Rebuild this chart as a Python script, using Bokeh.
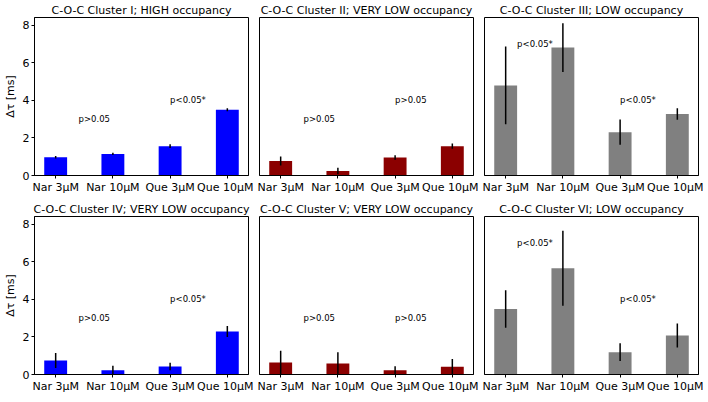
from bokeh.plotting import figure
from bokeh.layouts import gridplot
from bokeh.models import Range1d, FixedTicker
from bokeh.embed import file_html
from bokeh.resources import INLINE

categories = ["Nar 3μM", "Nar 10μM", "Que 3μM", "Que 10μM"]

titles = [
    "C-O-C Cluster I; HIGH occupancy",
    "C-O-C Cluster II; VERY LOW occupancy",
    "C-O-C Cluster III; LOW occupancy",
    "C-O-C Cluster IV; VERY LOW occupancy",
    "C-O-C Cluster V; VERY LOW occupancy",
    "C-O-C Cluster VI; LOW occupancy",
]

values_I = [0.97, 1.15, 1.56, 3.50]
err_I = [0.07, 0.06, 0.10, 0.08]
values_II = [0.77, 0.24, 0.96, 1.56]
err_II = [0.24, 0.17, 0.12, 0.14]
values_III = [4.80, 6.82, 2.31, 3.28]
err_III = [2.07, 1.30, 0.67, 0.31]
values_IV = [0.75, 0.22, 0.42, 2.29]
err_IV = [0.40, 0.24, 0.20, 0.29]
values_V = [0.64, 0.59, 0.22, 0.41]
err_V = [0.62, 0.60, 0.22, 0.41]
values_VI = [3.49, 5.66, 1.19, 2.08]
err_VI = [1.00, 2.00, 0.47, 0.64]

colors = ["#0000ff", "#8b0000", "#808080", "#0000ff", "#8b0000", "#808080"]

ann_I = [(0.4, 3, "p>0.05"), (2.0, 4, "p<0.05*")]
ann_II = [(0.4, 3, "p>0.05"), (2.0, 4, "p>0.05")]
ann_III = [(0.2, 7, "p<0.05*"), (2.0, 4, "p<0.05*")]
ann_IV = [(0.4, 3, "p>0.05"), (2.0, 4, "p<0.05*")]
ann_V = [(0.4, 3, "p>0.05"), (2.0, 3, "p>0.05")]
ann_VI = [(0.2, 7, "p<0.05*"), (2.0, 4, "p<0.05*")]

values = [values_I, values_II, values_III, values_IV, values_V, values_VI]
errors = [err_I, err_II, err_III, err_IV, err_V, err_VI]
anns = [ann_I, ann_II, ann_III, ann_IV, ann_V, ann_VI]

FONT = "DejaVu Sans"
FW, FH = 214, 158

figs = []
for i in range(6):
    row, col = divmod(i, 3)
    x = list(range(len(categories)))
    v = values[i]
    e = errors[i]
    p = figure(
        output_backend="svg", toolbar_location=None,
        frame_width=FW, frame_height=FH,
        x_range=Range1d(-0.37, 3.37), y_range=Range1d(0, 8.42),
        min_border_left=(20 if col == 0 else 6),
        min_border_right=5,
        min_border_top=0,
        min_border_bottom=(24 if row == 0 else 16),
        title=titles[i],
    )
    p.title.text_font = FONT
    p.title.text_font_size = "11px"
    p.title.text_font_style = "normal"
    p.title.text_color = "black"
    p.title.align = "center"
    p.title.standoff = 2
    p.outline_line_color = "black"
    p.outline_line_alpha = 1
    p.outline_line_width = 1
    p.xgrid.visible = False
    p.ygrid.visible = False
    p.background_fill_color = "white"
    p.border_fill_color = "white"

    p.vbar(x=x, top=v, bottom=0, width=0.4, fill_color=colors[i], line_color=None)
    lo = [a - b for a, b in zip(v, e)]
    hi = [a + b for a, b in zip(v, e)]
    p.segment(x0=x, y0=lo, x1=x, y1=hi, line_color="black", line_width=1.5)

    ax = [a[0] for a in anns[i]]
    ay = [a[1] for a in anns[i]]
    at = [a[2] for a in anns[i]]
    p.text(x=ax, y=ay, text=at, text_align="left", text_baseline="alphabetic",
           text_font_size="8.5px", text_color="black", text_font={"value": FONT})

    xa = p.xaxis[0]
    xa.ticker = FixedTicker(ticks=x)
    xa.major_label_overrides = {k: c for k, c in zip(x, categories)}
    xa.major_label_text_font = FONT
    xa.major_label_text_font_size = "11px"
    xa.major_label_text_color = "black"
    xa.major_label_standoff = 2
    xa.major_tick_out = 3
    xa.major_tick_in = 0
    xa.minor_tick_out = 0
    xa.axis_line_color = "black"
    xa.major_tick_line_color = "black"

    ya = p.yaxis[0]
    if col == 0:
        ya.ticker = FixedTicker(ticks=[0, 2, 4, 6, 8])
        ya.major_tick_out = 3
        ya.major_tick_in = 0
        ya.minor_tick_out = 0
        ya.minor_tick_in = 0
        ya.major_label_standoff = 2
        ya.major_label_text_font = FONT
        ya.major_label_text_font_size = "11px"
        ya.major_label_text_color = "black"
        ya.major_tick_line_color = "black"
        ya.axis_line_color = "black"
        ya.axis_label = "Δτ [ms]"
        ya.axis_label_text_font = FONT
        ya.axis_label_text_font_size = "11px"
        ya.axis_label_text_font_style = "normal"
        ya.axis_label_text_color = "black"
        ya.axis_label_standoff = 3
    else:
        ya.visible = False
    figs.append(p)

grid = gridplot(figs, ncols=3, toolbar_location=None)
open("out.html", "w").write(file_html(grid, INLINE))
